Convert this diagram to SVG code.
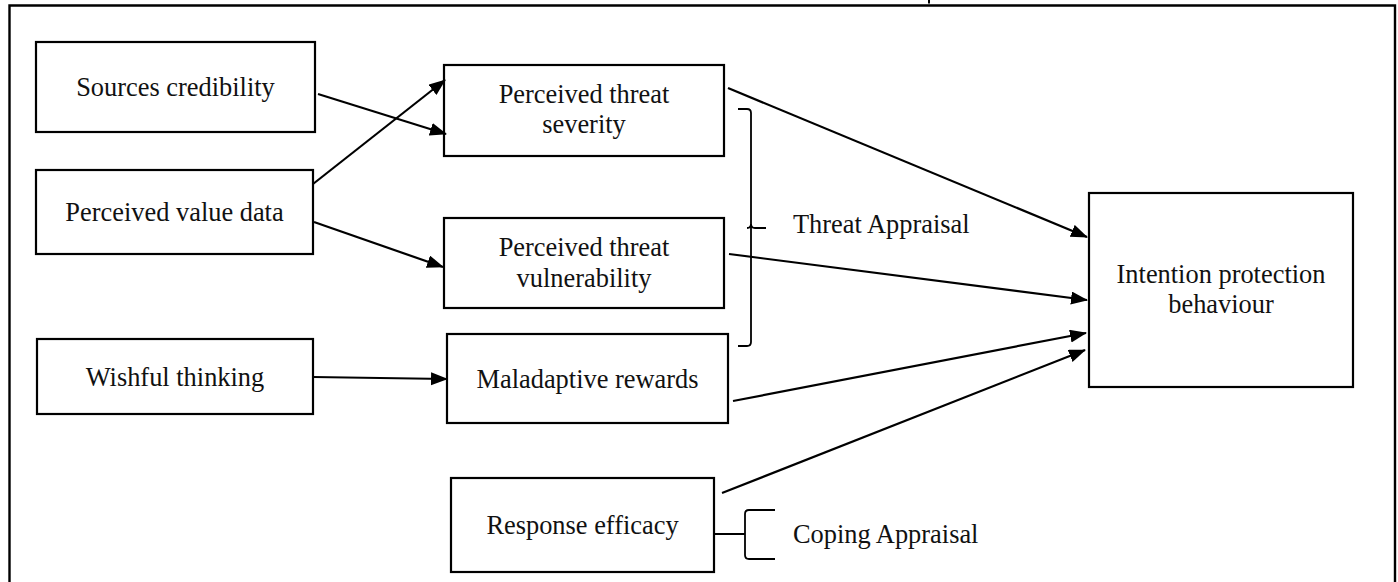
<svg xmlns="http://www.w3.org/2000/svg" width="1398" height="582" viewBox="0 0 1398 582">
<style>
.box{fill:#fff;stroke:#000;stroke-width:2.2}
.t{font-family:"Liberation Serif","Times New Roman",serif;font-size:26.4px;fill:#111;text-anchor:middle}
.tl{font-family:"Liberation Serif","Times New Roman",serif;font-size:26.4px;fill:#111}
.c{fill:none;stroke:#000;stroke-width:2.2}
.br{fill:none;stroke:#000;stroke-width:1.8}
</style>
<defs>
<marker id="ah" markerUnits="userSpaceOnUse" markerWidth="18" markerHeight="14" refX="16" refY="6.5" orient="auto">
<path d="M0,0 L17,6.5 L0,13 z" fill="#000"/>
</marker>
</defs>
<rect width="1398" height="582" fill="#fff"/>
<g id="frame">
<path d="M9.5,590 V5.5 H1395 V590" fill="none" stroke="#000" stroke-width="2.4"/>
<path d="M929,0 V3.5" stroke="#000" stroke-width="2"/>
</g>
<g id="n-sources"><rect class="box" x="36" y="42" width="279" height="90"/><text class="t" x="175.5" y="96">Sources credibility</text></g>
<g id="n-value"><rect class="box" x="36" y="170" width="277" height="84"/><text class="t" x="174.5" y="221">Perceived value data</text></g>
<g id="n-wishful"><rect class="box" x="37" y="339" width="276" height="75"/><text class="t" x="175" y="386">Wishful thinking</text></g>
<g id="n-severity"><rect class="box" x="444" y="65" width="280" height="91"/><text class="t" x="584" y="103">Perceived threat</text><text class="t" x="584" y="133">severity</text></g>
<g id="n-vulnerability"><rect class="box" x="444" y="218" width="280" height="90"/><text class="t" x="584" y="256">Perceived threat</text><text class="t" x="584" y="287">vulnerability</text></g>
<g id="n-maladaptive"><rect class="box" x="447" y="334" width="281" height="89"/><text class="t" x="587.5" y="388">Maladaptive rewards</text></g>
<g id="n-response"><rect class="box" x="451" y="478" width="263" height="94"/><text class="t" x="582.5" y="534">Response efficacy</text></g>
<g id="n-intention"><rect class="box" x="1089" y="193" width="264" height="194"/><text class="t" x="1221" y="283">Intention protection</text><text class="t" x="1221" y="313">behaviour</text></g>
<g id="threat-appraisal">
<path class="br" d="M738,109 H747 Q751,109 751,113 V224 Q751,228 755,228 H766 M751,224 Q751,228 747,228 M751,232 V342 Q751,346 747,346 H738"/>
<path class="br" d="M751,224 V232"/>
<text class="tl" x="793" y="233">Threat Appraisal</text>
</g>
<g id="coping-appraisal">
<path class="br" d="M714,534 H745 M775,510 H749 Q745,510 745,514 V555 Q745,559 749,559 H775"/>
<text class="tl" x="793" y="543">Coping Appraisal</text>
</g>
<g id="connectors">
<line class="c" x1="318" y1="94" x2="446" y2="134" marker-end="url(#ah)"/>
<line class="c" x1="313" y1="184" x2="445" y2="80" marker-end="url(#ah)"/>
<line class="c" x1="314" y1="222" x2="443" y2="267" marker-end="url(#ah)"/>
<line class="c" x1="313" y1="377" x2="447" y2="379" marker-end="url(#ah)"/>
<line class="c" x1="728" y1="88" x2="1087" y2="237" marker-end="url(#ah)"/>
<line class="c" x1="729" y1="254" x2="1087" y2="300" marker-end="url(#ah)"/>
<line class="c" x1="733" y1="401" x2="1086" y2="333" marker-end="url(#ah)"/>
<line class="c" x1="722" y1="493" x2="1085" y2="350" marker-end="url(#ah)"/>
</g>
</svg>
